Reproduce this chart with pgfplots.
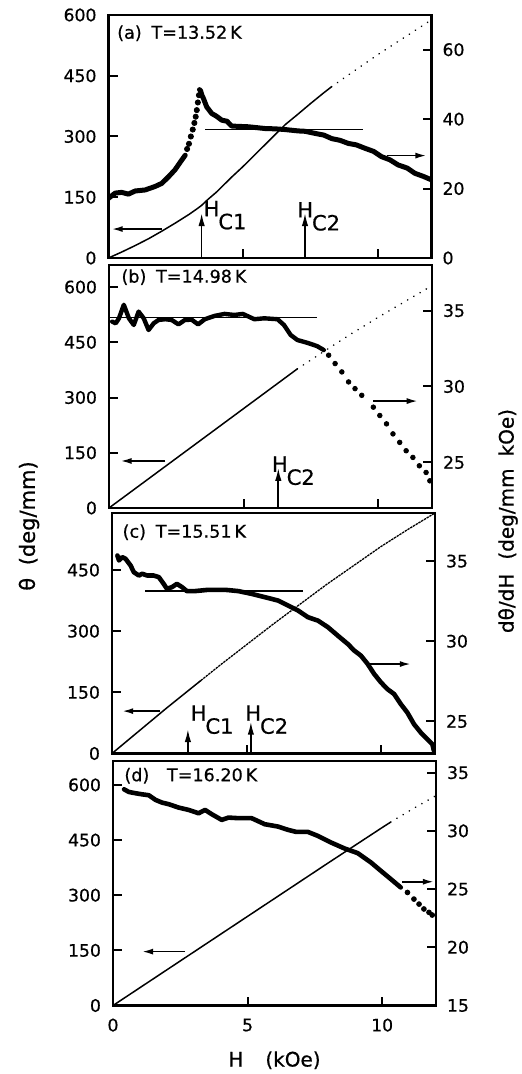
\documentclass[border=0pt]{standalone}
\usepackage{fontspec}
\setmainfont{DejaVu Sans}[FakeBold=0.6]
\usepackage{pgfplots}
\pgfplotsset{compat=1.18}
\usetikzlibrary{arrows.meta}

\pgfplotsset{
  panel/.style={
    scale only axis, width=161.5pt, anchor=north west,
    xmin=0, xmax=12,
    tick align=inside, major tick length=4.5pt,
    every tick/.style={black, line width=1pt},
    axis line style={line width=1.3pt},
    ticklabel style={font=\fontsize{8.6}{10}\selectfont},
    /pgf/number format/assume math mode=true,
  },
  leftax/.style={panel, xtick={5,10}, xticklabels={}, xtick pos=left, ytick pos=left,
    yticklabel style={xshift=-2.5pt}},
  rightax/.style={panel, axis x line=none, axis y line*=right, ytick pos=right, xtick=\empty,
    yticklabel style={xshift=2pt}},
  theta/.style={black, line width=0.75pt, line join=round},
  thetadot/.style={black, line width=0.9pt, line cap=round, dash pattern=on 0.01pt off 3.6pt},
  deriv/.style={black, line width=2.5pt, line join=round, line cap=round},
  derivdots/.style={black, only marks, mark=*, mark size=1.15pt},
  level/.style={black, line width=0.65pt},
}
\tikzset{
  dirarrow/.style={line width=0.85pt, -{Latex[length=5.5pt,width=3pt]}},
  hcarrow/.style={line width=0.85pt, -{Latex[length=6.5pt,width=3.2pt]}},
  hclabel/.style={anchor=north west, inner sep=0pt, font=\fontsize{10.5}{12}\selectfont},
  tlabel/.style={anchor=west, inner sep=0pt, font=\fontsize{8.8}{10}\selectfont},
}
\newcommand{\Hc}[1]{H\kern-0.05em\raisebox{-0.62em}{C#1}}

\begin{document}
\begin{tikzpicture}
\path[use as bounding box] (0pt,0pt) rectangle (260.5pt,-537pt);

% ---------------- (a) T = 13.52 K ----------------
\begin{axis}[leftax, at={(54.25pt,-7.5pt)}, height=121.5pt,
  ymin=0, ymax=600, ytick={0,150,300,450,600}]
\addplot[theta] coordinates {
 (0,0) (0.5,15) (1.0,31) (1.5,48) (2.0,67) (2.5,87) (3.0,108) (3.3,122)
 (3.46,130) (3.7,145) (4.0,162) (4.58,200) (5.0,226) (6.0,292) (6.56,329)
 (7.0,353) (7.5,381) (8.0,408) (8.29,423)};
\addplot[thetadot] coordinates {
 (8.29,423) (9.0,456) (10.0,502) (11.0,545) (12.0,588)};
\draw[dirarrow] (axis cs:1.98,71.5) -- (axis cs:0.12,71.5);
\draw[hcarrow] (axis cs:3.46,0) -- (axis cs:3.46,111);
\draw[hcarrow] (axis cs:7.3,0) -- (axis cs:7.3,111);
\node[hclabel] at (axis cs:3.52,142) {\Hc{1}};
\node[hclabel] at (axis cs:7.0,139) {\Hc{2}};
\node[tlabel] at (axis cs:0.31,555) {(a)\hspace{0.55em}T=13.52\,K};
\end{axis}
\begin{axis}[rightax, at={(54.25pt,-7.5pt)}, height=121.5pt,
  ymin=0, ymax=70, ytick={0,20,40,60}]
\addplot[deriv] coordinates {
 (0,17.2) (0.25,18.7) (0.49,18.9) (0.74,18.4) (0.99,19.3) (1.36,19.6)
 (1.73,20.6) (1.98,21.5) (2.23,23.4) (2.47,25.4) (2.72,28.2) (2.85,29.6)};
\addplot[derivdots, mark size=1.3pt] coordinates {
 (2.92,31.4) (2.99,32.9) (3.06,35.0) (3.13,37.0) (3.19,38.9) (3.24,40.7)
 (3.28,42.6) (3.32,44.8) (3.36,46.9)};
\addplot[deriv] coordinates {
 (3.38,48.5) (3.42,48.2) (3.47,46.9) (3.53,45.9) (3.65,43.5) (3.84,41.6)
 (4.0,40.9) (4.21,39.7) (4.4,39.4) (4.58,38.0) (5.2,37.8) (5.81,37.3)
 (6.2,37.2) (6.56,37.0) (7.05,36.6) (7.3,36.5) (7.67,35.9) (8.0,35.4)
 (8.29,34.4) (8.6,33.9) (8.91,33.0) (9.2,32.6) (9.53,31.6) (9.85,30.7)
 (10.14,29.2) (10.45,28.3) (10.76,26.8) (11.1,25.9) (11.38,24.4)
 (11.7,23.5) (12,22.5)};
\addplot[level] coordinates {(3.59,37.0) (9.46,37.0)};
\draw[dirarrow] (axis cs:10.33,29.5) -- (axis cs:11.81,29.5);
\end{axis}

% ---------------- (b) T = 14.98 K ----------------
\begin{axis}[leftax, at={(54.5pt,-132.5pt)}, height=121.5pt,
  ymin=0, ymax=660, ytick={0,150,300,450,600}]
\addplot[theta] coordinates {
 (0,0) (1,54) (2,108) (3,162) (4,216) (5,270) (6,324) (7,378)};
\addplot[thetadot] coordinates {
 (7,378) (8,426) (9,473) (10,518) (11,561) (12,604)};
\draw[dirarrow] (axis cs:2.09,127.7) -- (axis cs:0.43,127.7);
\draw[hcarrow] (axis cs:6.29,0) -- (axis cs:6.29,109);
\node[hclabel] at (axis cs:6.04,141) {\Hc{2}};
\node[tlabel] at (axis cs:0.45,627) {(b)\hspace{0.55em}T=14.98\,K};
\end{axis}
\begin{axis}[rightax, at={(54.5pt,-132.5pt)}, height=121.5pt,
  ymin=22, ymax=38, ytick={25,30,35}]
\addplot[deriv, line width=2.2pt] coordinates {
 (0.12,34.27) (0.25,34.16) (0.37,34.49) (0.55,35.38) (0.74,34.49)
 (0.92,34.05) (1.10,34.93) (1.29,34.49) (1.47,33.72) (1.66,34.16)
 (1.84,34.38) (2.09,34.43) (2.33,34.38) (2.58,34.09) (2.82,34.38)
 (3.07,34.40) (3.31,34.09) (3.56,34.43) (3.93,34.65) (4.29,34.78)
 (4.66,34.71) (4.97,34.78) (5.40,34.43) (5.77,34.49) (6.26,34.43)
 (6.50,34.05) (6.75,33.39) (7.00,33.06) (7.36,32.88) (7.73,32.66)
 (7.98,32.40)};
\addplot[derivdots] coordinates {
 (8.16,32.06) (8.40,31.51) (8.65,30.96) (8.90,30.30) (9.14,29.86)
 (9.39,29.42) (9.82,28.64) (10.06,28.09) (10.31,27.54) (10.55,26.88)
 (10.80,26.32) (11.04,25.77) (11.29,25.33) (11.53,24.78) (11.78,24.34)
 (11.92,23.79)};
\addplot[level] coordinates {(0,34.54) (7.73,34.54)};
\draw[dirarrow] (axis cs:9.82,29.04) -- (axis cs:11.47,29.04);
\end{axis}

% ---------------- (c) T = 15.51 K ----------------
\begin{axis}[leftax, at={(56pt,-256.5pt)}, height=120.25pt,
  ymin=0, ymax=590, ytick={0,150,300,450}]
\addplot[theta] coordinates {
 (0,0) (1,55) (2,110) (3.3,179)};
\addplot[black, line width=0.65pt, dash pattern=on 1.2pt off 0.4pt] coordinates {
 (3.3,179) (4,216) (5,267) (6,318) (7,367) (8,416) (9,462) (10,508)
 (11,550) (12,590)};
\draw[dirarrow] (axis cs:1.8,104) -- (axis cs:0.38,104);
\draw[hcarrow] (axis cs:2.82,0) -- (axis cs:2.82,60);
\draw[hcarrow] (axis cs:5.16,0) -- (axis cs:5.16,78);
\node[hclabel] at (axis cs:2.91,119) {\Hc{1}};
\node[hclabel] at (axis cs:4.94,119) {\Hc{2}};
\node[tlabel] at (axis cs:0.38,543) {(c)\hspace{0.55em}T=15.51\,K};
\end{axis}
\begin{axis}[rightax, at={(56pt,-256.5pt)}, height=120.25pt,
  ymin=23, ymax=38, ytick={25,30,35}]
\addplot[deriv, line width=2.3pt] coordinates {
 (0.20,35.35) (0.26,35.04) (0.38,35.25) (0.50,35.15) (0.69,34.73)
 (0.81,34.31) (1.00,34.10) (1.12,34.21) (1.31,34.10) (1.55,34.10)
 (1.74,34.00) (1.92,33.58) (2.04,33.27) (2.23,33.38) (2.41,33.58)
 (2.60,33.38) (2.78,33.13) (3.09,33.13) (3.58,33.21) (4.20,33.21)
 (4.69,33.13) (5.18,32.96) (5.68,32.75) (6.17,32.54) (6.54,32.23)
 (6.91,31.92) (7.28,31.50) (7.65,31.29) (8.02,30.88) (8.39,30.35)
 (8.76,29.83) (9.00,29.42) (9.25,29.10) (9.50,28.58) (9.74,27.96)
 (9.99,27.44) (10.23,27.02) (10.48,26.71) (10.73,26.08) (10.97,25.56)
 (11.22,24.83) (11.47,24.31) (11.71,23.90) (11.90,23.58) (11.96,23.17)};
\addplot[level] coordinates {(1.24,33.13) (7.09,33.13)};
\draw[dirarrow] (axis cs:9.56,28.58) -- (axis cs:11.1,28.58);
\end{axis}

% ---------------- (d) T = 16.20 K ----------------
\begin{axis}[leftax, at={(56.5pt,-380.5pt)}, height=122.25pt,
  ymin=0, ymax=665, ytick={0,150,300,450,600},
  xtick={0,5,10}, xticklabels={0,5,10},
  xticklabel style={yshift=-3pt},
  xlabel={H\hspace{1.1em}(kOe)},
  xlabel style={font=\fontsize{10}{12}\selectfont, yshift=-3pt}]
\addplot[theta] coordinates {
 (0,0) (2,97) (4,194) (6,291) (8,388) (10,484) (10.32,499)};
\addplot[thetadot] coordinates {
 (10.32,499) (11,529) (12,571)};
\draw[dirarrow] (axis cs:2.68,146.6) -- (axis cs:1.08,146.6);
\node[tlabel] at (axis cs:0.41,625) {(d)\hspace{1em}T=16.20\,K};
\end{axis}
\begin{axis}[rightax, at={(56.5pt,-380.5pt)}, height=122.25pt,
  ymin=15, ymax=36, ytick={15,20,25,30,35}]
\addplot[deriv, line width=2.3pt] coordinates {
 (0.41,33.57) (0.59,33.34) (0.84,33.23) (1.08,33.14) (1.33,33.06)
 (1.58,32.66) (1.82,32.43) (2.07,32.29) (2.44,32.00) (2.81,31.80)
 (3.18,31.51) (3.42,31.80) (3.67,31.43) (4.04,30.94) (4.29,31.14)
 (4.66,31.09) (5.15,31.09) (5.64,30.57) (6.13,30.37) (6.50,30.09)
 (6.81,29.91) (7.24,29.91) (7.61,29.57) (8.10,29.00) (8.60,28.49)
 (9.09,28.09) (9.58,27.29) (9.95,26.57) (10.32,25.86) (10.69,25.14)};
\addplot[derivdots, mark size=1.2pt] coordinates {
 (10.94,24.71) (11.18,24.14) (11.37,23.71) (11.55,23.29) (11.74,23.00)
 (11.86,22.77)};
\draw[dirarrow] (axis cs:10.75,25.63) -- (axis cs:11.92,25.63);
\end{axis}

% axis titles shared by the four panels
\node[rotate=90, font=\fontsize{10.5}{12}\selectfont] at (14.5pt,-263pt)
  {θ\hspace{0.6em}(deg/mm)};
\node[rotate=90, font=\fontsize{10}{12}\selectfont] at (254pt,-260.5pt)
  {dθ/dH\hspace{0.7em}(deg/mm\hspace{0.6em}kOe)};
\end{tikzpicture}
\end{document}
